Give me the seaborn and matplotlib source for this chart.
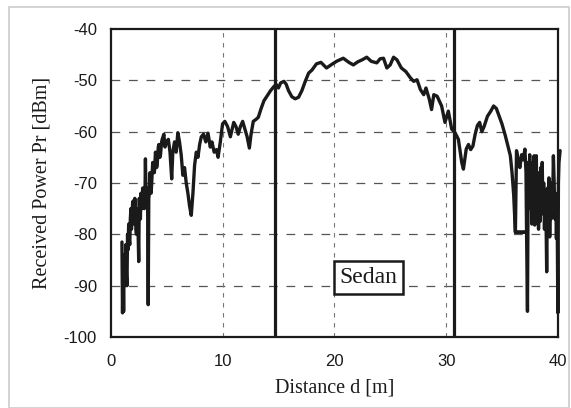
import numpy as np
import pandas as pd
import matplotlib
matplotlib.use("Agg")
import matplotlib.pyplot as plt
import seaborn as sns
from matplotlib.patches import Rectangle

# ---- data ----
distance = [
    1.0, 1.05, 1.1, 1.15, 1.2, 1.25, 1.3, 1.35, 1.4, 1.45, 1.5, 1.55, 1.6, 1.65,
    1.7, 1.75, 1.8, 1.85, 1.9, 1.95, 2.0, 2.05,
    2.1, 2.15, 2.2, 2.25, 2.3, 2.35, 2.4, 2.45, 2.5, 2.55, 2.6, 2.65, 2.7, 2.75,
    2.8, 2.85, 2.9, 2.95, 3.0, 3.05, 3.1, 3.15, 3.2,
    3.25, 3.3, 3.35, 3.4, 3.45, 3.5, 3.55, 3.6, 3.65, 3.75, 3.9, 4.0, 4.1, 4.15,
    4.25, 4.3, 4.4, 4.45, 4.55, 4.6, 4.75,
    4.85, 5.0, 5.15, 5.3, 5.45, 5.55, 5.7, 5.85, 6.0, 6.15, 6.3, 6.45, 6.6,
    6.75, 6.9, 7.05, 7.2, 7.35, 7.5, 7.65, 7.8, 7.95, 8.1, 8.3, 8.5, 8.7,
    8.9, 9.05, 9.25, 9.45, 9.6, 9.8, 10.0, 10.2, 10.45, 10.7, 11.0, 11.2,
    11.4, 11.6, 11.8, 12.0, 12.2, 12.4, 12.55, 12.75, 13.0, 13.2, 13.45,
    13.7, 14.0, 14.3, 14.6, 14.8, 15.0, 15.2, 15.5, 15.7, 15.9, 16.2, 16.5,
    16.8, 17.1, 17.4, 17.7, 18.0, 18.4, 18.8, 19.3, 19.7, 20.2, 20.8, 21.3,
    21.7, 22.1, 22.5, 22.9, 23.3, 23.8, 24.1, 24.4, 24.7, 25.0, 25.3, 25.6,
    26.0, 26.4, 26.8, 27.1, 27.4, 27.7, 28.0, 28.2, 28.5, 28.7, 28.9, 29.2,
    29.6, 29.9, 30.2, 30.5, 30.8, 31.1, 31.4, 31.55, 31.8, 32.0, 32.2, 32.4,
    32.6, 32.8, 33.0, 33.2, 33.4, 33.7, 34.0, 34.25, 34.5, 34.8, 35.0, 35.3,
    35.55, 35.75, 35.9, 36.05, 36.2, 36.3, 36.45, 36.6, 36.75, 36.9, 37.05,
    37.15, 37.2, 36.25, 37.2, 37.28, 37.35, 37.42, 37.48, 37.55, 37.6, 37.67,
    37.73, 37.8, 37.87, 37.93, 38.0, 38.07, 38.13, 38.2, 38.27, 38.33, 38.4,
    38.47, 38.53, 38.6, 38.67, 38.73, 38.8, 38.87, 38.93, 39.0, 39.07, 39.13,
    39.2, 39.27, 39.33, 39.4, 39.47, 39.53, 39.6, 39.67, 39.73, 39.8, 39.87,
    39.93, 40.0, 40.05, 40.1, 40.2,
]
power = [
    -81.5, -95.3, -87, -95, -84, -90, -86, -82, -88, -90, -80, -83, -78, -81,
    -82, -77, -75, -79, -77, -74, -73.5, -77,
    -78, -73, -74, -79, -80, -75, -76, -80, -85.3, -73, -76, -77, -72, -74,
    -75, -71, -74, -71, -75, -74, -65.3, -72, -73,
    -71, -75, -93.7, -73, -72, -68, -69, -72, -70.5, -66, -68, -64, -67, -66.5,
    -63, -62.5, -65, -64.5, -62, -61.5, -60.5,
    -63, -62, -61.5, -64, -69.2, -64, -62, -64, -60.2, -62, -64.5, -68.5, -67,
    -70, -72, -74.5, -76.3, -72, -66.5, -64, -65, -62.5, -61, -60.5, -62, -60.3,
    -63, -62, -64, -63.5, -65, -62, -58.5, -58, -59, -61, -58.2, -59,
    -60.5, -59, -58, -59.5, -61, -63.2, -60.5, -58, -57.6, -57.2, -55.5,
    -54, -53, -52, -51.2, -50.8, -51.5, -50.5, -50.2, -50.8, -52, -53.2, -53.6,
    -53.3, -52, -50.2, -48.6, -48, -46.8, -46.5, -47.6, -47, -46.3, -45.7, -46.5,
    -47.0, -46.4, -46.0, -45.5, -46.3, -46.6, -45.8, -45.7, -47.6, -47.0, -45.5, -46.0,
    -47.6, -48.3, -49.5, -50.2, -49.9, -51.8, -52.8, -51.5, -53.7, -55.7, -52.8, -53.1,
    -55, -58.2, -56, -59.5, -60.2, -61.5, -66.0, -67.3, -63.4, -62.5, -63.5, -62.8,
    -60.5, -58.8, -58.2, -60.0, -59, -57, -56, -55.0, -55.5, -57.3, -58.5, -60.8,
    -63.0, -64.7, -68, -72.4, -79.6, -63.7, -65.5, -67, -64.5, -65.5, -63.4,
    -68, -79.6, -79.6, -79.6, -95.0, -66, -72, -64.5, -75, -68, -78,
    -66, -71, -64.7, -78.2, -69, -64.7, -74, -68, -79, -72, -77.5,
    -67, -73, -66, -76, -70, -79, -72, -75, -87.3, -71, -78,
    -69, -80.5, -73, -77, -70, -74, -64.7, -70, -77, -72, -80.8,
    -74, -95.3, -70, -66, -63.7,
]
x_ticks = [0, 10, 20, 30, 40]
y_ticks = [-40, -50, -60, -70, -80, -90, -100]
boundaries = [14.7, 30.7]
label_text = "Sedan"

df = pd.DataFrame({"d": distance, "p": power})

sns.set_style("white")
fig = plt.figure(figsize=(5.71, 4.08), dpi=100)
ax = fig.add_axes([0.194, 0.174, 0.783, 0.755])

sns.lineplot(data=df, x="d", y="p", sort=False, estimator=None, ax=ax,
             color="#1a1a1a", linewidth=2.4, clip_on=False, zorder=3)

for b in boundaries:
    ax.axvline(b, color="#1a1a1a", linewidth=2.3, zorder=4)

ax.set_xlim(0, 40)
ax.set_ylim(-100, -40)
ax.set_xticks(x_ticks)
ax.set_yticks(y_ticks)
ax.set_xticklabels([str(t) for t in x_ticks])
ax.set_yticklabels([str(t) for t in y_ticks])

for y in y_ticks[1:-1]:
    ax.axhline(y, color="#555555", linewidth=0.9, linestyle=(0, (7, 7)), zorder=1)
for x in x_ticks[1:-1]:
    ax.axvline(x, color="#777777", linewidth=0.8, linestyle=(0, (4, 5)), zorder=1)

for s in ax.spines.values():
    s.set_color("#1a1a1a")
    s.set_linewidth(1.6)

ax.tick_params(axis="both", direction="in", length=3, width=1, color="#333333",
               labelsize=12, labelcolor="#1a1a1a")
ax.tick_params(axis="y", pad=10)
ax.tick_params(axis="x", pad=12)
for lab in ax.get_xticklabels() + ax.get_yticklabels():
    lab.set_family(["Liberation Sans", "DejaVu Sans"])

ax.set_xlabel("Distance d [m]", family=["Liberation Serif", "DejaVu Serif"],
              fontsize=14.5, color="#1a1a1a", labelpad=7)
ax.set_ylabel("Received Power Pr [dBm]", family=["Liberation Serif", "DejaVu Serif"],
              fontsize=14.5, color="#1a1a1a", labelpad=9)

ax.text(23.05, -88.4, label_text, family=["Liberation Serif", "DejaVu Serif"],
        fontsize=17, ha="center", va="center", color="#1a1a1a", zorder=5,
        bbox=dict(boxstyle="square,pad=0.25", facecolor="white",
                  edgecolor="#1a1a1a", linewidth=1.8))

fig.patches.append(Rectangle((0.016, 0.0), 0.98, 0.983, transform=fig.transFigure,
                             fill=False, edgecolor="#cccccc", linewidth=1.2))

fig.savefig("out.png", dpi=100, facecolor="white")
